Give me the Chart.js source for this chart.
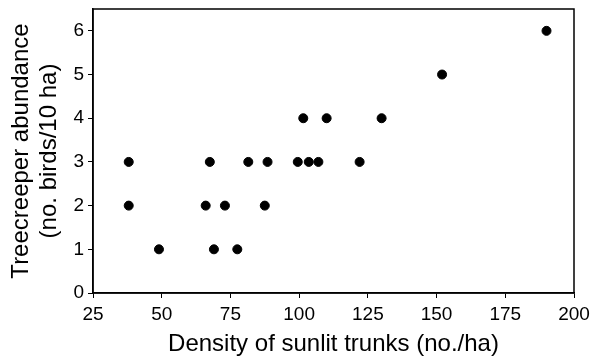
<!DOCTYPE html>
<html>
<head>
<meta charset="utf-8">
<script src="https://cdn.jsdelivr.net/npm/chart.js@4"></script>
<style>
  html, body { margin: 0; padding: 0; background: #fff; }
  #wrap { width: 602px; height: 357px; }
</style>
</head>
<body>
<div id="wrap"><canvas id="c"></canvas></div>
<script>
// data
var trunks = [38, 38, 49, 66, 67.5, 69, 73, 77.5, 81.5, 87.5, 88.5, 99.5, 101.5, 103.5, 107, 110, 122, 130, 152, 190];
var birds  = [3, 2, 1, 2, 3, 1, 2, 1, 3, 2, 3, 3, 4, 3, 3, 4, 3, 4, 5, 6];
var xTicks = [25, 50, 75, 100, 125, 150, 175, 200];
var yTicks = [0, 1, 2, 3, 4, 5, 6];

var pts = trunks.map(function(x, i) {
    return { x: x, y: birds[i] };
});

// box around the plot area
var frame = {
    id: 'frame',
    afterDraw: function(chart) {
        var a = chart.chartArea, c = chart.ctx;
        c.save();
        c.strokeStyle = '#000';
        c.lineWidth = 1.5;
        c.strokeRect(a.left, a.top, a.right - a.left, a.bottom - a.top);
        c.restore();
    }
};

Chart.defaults.font.family = "'Liberation Sans', Arial, sans-serif";
Chart.defaults.color = '#000';

new Chart(document.getElementById('c'), {
    type: 'scatter',
    data: {
        datasets: [{
            data: pts,
            backgroundColor: '#000',
            borderColor: '#000',
            pointRadius: 4.5,
            pointHoverRadius: 4.5
        }]
    },
    options: {
        responsive: true,
        maintainAspectRatio: false,
        animation: false,
        layout: { padding: { left: 0, right: 28, top: 9, bottom: 0 } },
        plugins: { legend: { display: false }, tooltip: { enabled: false } },
        scales: {
            x: {
                type: 'linear',
                min: 25, max: 200,
                afterBuildTicks: function(s) { s.ticks = xTicks.map(function(v) { return { value: v }; }); },
                afterFit: function(s) { s.height = 64; },
                grid: { drawOnChartArea: false, tickLength: 5, color: '#000', lineWidth: 1 },
                border: { display: true, color: '#000', width: 1.5 },
                ticks: { font: { size: 19 }, padding: 5, maxRotation: 0 },
                title: { display: true, text: 'Density of sunlit trunks (no./ha)', font: { size: 24, lineHeight: 1.2 }, padding: { top: 0, bottom: -2 } }
            },
            y: {
                type: 'linear',
                min: 0, max: 6.5,
                afterBuildTicks: function(s) { s.ticks = yTicks.map(function(v) { return { value: v }; }); },
                afterFit: function(s) { s.width = 93; s.paddingTop = 0; s.paddingBottom = 0; },
                grid: { drawOnChartArea: false, tickLength: 5, color: '#000', lineWidth: 1 },
                border: { display: true, color: '#000', width: 1.5 },
                ticks: { font: { size: 19 }, padding: 4 },
                title: { display: true, text: ['Treecreeper abundance', '(no. birds/10 ha)'], font: { size: 24, lineHeight: 1.17 }, padding: { top: 7, bottom: 0 } }
            }
        }
    },
    plugins: [frame]
});
</script>
</body>
</html>
